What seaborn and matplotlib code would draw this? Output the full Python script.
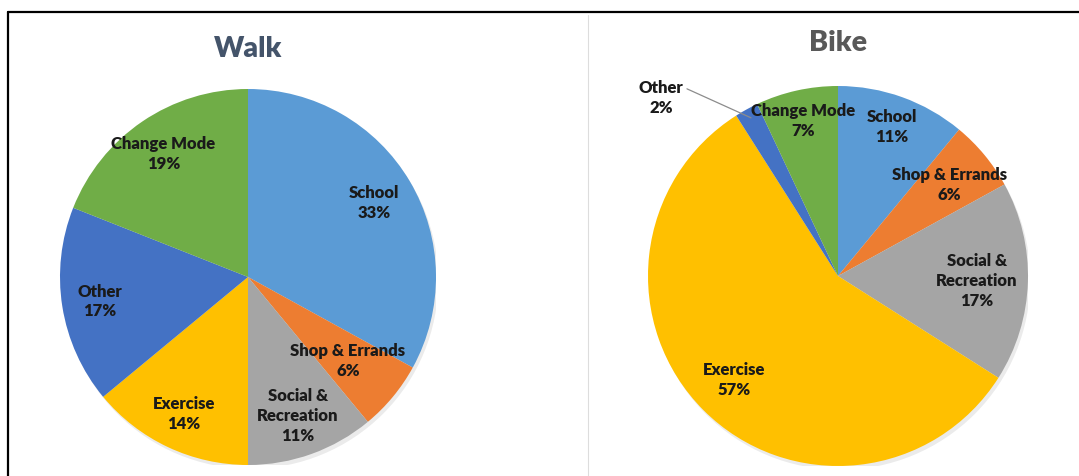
import numpy as np
import matplotlib
matplotlib.use("Agg")
import matplotlib.pyplot as plt
import seaborn as sns
from matplotlib.lines import Line2D

# data
categories = ["School", "Shop & Errands", "Social &\nRecreation", "Exercise", "Other", "Change Mode"]
walk_pct = [33, 6, 11, 14, 17, 19]
bike_pct = [11, 6, 17, 57, 2, 7]

sns.set_theme(style="white")
plt.rcParams["font.family"] = ["Lato", "DejaVu Sans"]

colors = ["#5B9BD5", "#ED7D31", "#A5A5A5", "#FFC000", "#4472C4", "#70AD47"]
W, H = 1079, 477
fig = plt.figure(figsize=(W / 100, H / 100), dpi=100)
LABEL_KW = dict(ha="center", va="center", fontsize=12, fontweight="heavy",
                color="#1A1A1A", linespacing=1.3)


def pie_axes(cx, cy, r):
    # pixel centre / radius -> figure fraction axes
    return fig.add_axes([(cx - r) / W, (H - cy - r) / H, 2 * r / W, 2 * r / H])


def draw_pie(ax, values, title, title_color, title_pad, dists, outside=None):
    # soft shadow
    ax.add_patch(plt.Circle((0.012, -0.02), 1.0, color="#000000", alpha=0.08, zorder=0, lw=0))
    wedges, _ = ax.pie(values, colors=colors, startangle=90, counterclock=False,
                       radius=1.0, wedgeprops=dict(linewidth=0))
    for w, lab, v, d in zip(wedges, categories, values, dists):
        ang = np.deg2rad((w.theta1 + w.theta2) / 2)
        txt = f"{lab}\n{v}%"
        if outside is not None and lab == outside[0]:
            ax.annotate(txt, xy=(0.95 * np.cos(ang), 0.95 * np.sin(ang)), xytext=outside[1],
                        arrowprops=dict(arrowstyle="-", color="#8C8C8C", lw=0.9,
                                        shrinkA=0, shrinkB=0, relpos=(1.0, 0.78)),
                        **LABEL_KW)
            continue
        ax.text(d * np.cos(ang), d * np.sin(ang), txt, **LABEL_KW)
    ax.set_xlim(-1, 1)
    ax.set_ylim(-1, 1)
    ax.set_aspect("equal")
    ax.axis("off")
    ax.set_title(title, fontsize=20.5, fontweight="heavy", color=title_color, pad=title_pad)


ax1 = pie_axes(248, 278, 188)
draw_pie(ax1, walk_pct, "Walk", "#44546A", 24, [0.78, 0.69, 0.78, 0.8, 0.8, 0.8])

ax2 = pie_axes(838, 277, 190)
draw_pie(ax2, bike_pct, "Bike", "#595959", 26, [0.84, 0.76, 0.73, 0.77, 0.8, 0.84],
         outside=("Other", (-0.93, 0.94)))

# frame lines of the original slide
fig.add_artist(Line2D([8 / W, 1], [1 - 13 / H, 1 - 13 / H], color="black", lw=1.6))
fig.add_artist(Line2D([8 / W, 8 / W], [0, 1 - 13 / H], color="black", lw=1.6))
fig.add_artist(Line2D([588 / W, 588 / W], [0, 1 - 16 / H], color="#DDDDDD", lw=0.8))

fig.savefig("out.png", dpi=100)
